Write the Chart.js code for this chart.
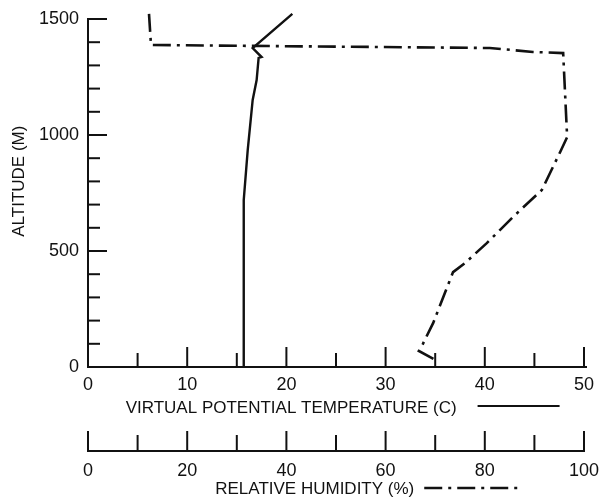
<!DOCTYPE html>
<html>
<head>
<meta charset="utf-8">
<title>Altitude profile</title>
<script src="https://cdn.jsdelivr.net/npm/chart.js@4.4.0/dist/chart.umd.min.js"></script>
<style>
    body { margin: 0; background: #fff; }
    canvas { display: block; }
</style>
</head>
<body>
<canvas id="myChart" width="602" height="501"></canvas>
<script>
// virtual potential temperature profile
var tempC   = [15.7, 15.7, 15.7, 16.1, 16.6, 17.0, 17.2, 17.5, 16.6, 20.6];
var tempAlt = [0, 547, 720, 935, 1151, 1237, 1332, 1336, 1375, 1522];

// relative humidity profile
var humidity    = [12.3, 12.7, 81.0, 89.7, 95.8, 96.6, 95.2, 91.5, 85.7, 80.4, 76.0, 73.6, 71.4, 69.6, 67.5, 66.7, 70.4];
var humidityAlt = [1522, 1388, 1375, 1358, 1353, 991, 927, 763, 647, 534, 448, 409, 289, 190, 99, 69, 26];

// labelled ticks on each axis
var altTicks  = [0, 500, 1000, 1500];
var tempTicks = [0, 10, 20, 30, 40, 50];
var rhTicks   = [0, 20, 40, 60, 80, 100];

var tempTitle = 'VIRTUAL POTENTIAL TEMPERATURE (C)';
var rhTitle   = 'RELATIVE HUMIDITY (%)';
var altTitle  = 'ALTITUDE (M)';

var FONT = '"Liberation Sans", Arial, Helvetica, sans-serif';
var INK = '#111';

Chart.defaults.font.family = FONT;
Chart.defaults.color = INK;

function points(xs, ys) {
    var out = [];
    for (var i = 0; i < xs.length; i++) {
        out.push({x: xs[i], y: ys[i]});
    }
    return out;
}

function fixedTicks(values) {
    return function (axis) {
        axis.ticks = values.map(function (v) { return {value: v}; });
    };
}

function plainNumber(value) {
    return String(value);
}

function strokeLine(ctx, x1, y1, x2, y2) {
    ctx.beginPath();
    ctx.moveTo(x1, y1);
    ctx.lineTo(x2, y2);
    ctx.stroke();
}

// space kept after each title for its line sample
var tempPad = ' '.repeat(19);
var rhPad = ' '.repeat(9);
var rhDash = [18, 6, 3, 6];

// axes with inward ticks, plus the line samples after the axis titles
var axisLines = {
    id: 'axisLines',
    afterDatasetsDraw: function (chart) {
        var ctx = chart.ctx;
        var x = chart.scales.x, x2 = chart.scales.x2, y = chart.scales.y;
        var left = x.left, bottom = y.bottom;
        ctx.save();
        ctx.strokeStyle = INK;
        ctx.lineWidth = 2;

        strokeLine(ctx, left, y.getPixelForValue(1500) - 1, left, bottom + 1);
        for (var a = 0; a <= 1500; a += 100) {
            var py = y.getPixelForValue(a);
            strokeLine(ctx, left, py, left + (a % 500 === 0 ? 19 : 12), py);
        }

        strokeLine(ctx, left - 1, bottom, x.right + 3, bottom);
        for (var t = 5; t <= 50; t += 5) {
            var px = x.getPixelForValue(t);
            strokeLine(ctx, px, bottom, px, bottom - (t % 10 === 0 ? 20 : 14));
        }

        var base = x2.top + 32;
        strokeLine(ctx, x2.left - 1, base, x2.right + 1, base);
        for (var h = 0; h <= 100; h += 10) {
            var hx = x2.getPixelForValue(h);
            strokeLine(ctx, hx, base, hx, base - (h % 20 === 0 ? 20 : 16));
        }

        ctx.font = '17px ' + FONT;
        var mid = (x.left + x.right) / 2;

        var start = mid - ctx.measureText(tempTitle + tempPad).width / 2;
        var end = start + ctx.measureText(tempTitle).width;
        var ty = x.bottom - 13;
        strokeLine(ctx, end + 21, ty, end + 103, ty);

        start = mid - ctx.measureText(rhTitle + rhPad).width / 2;
        end = start + ctx.measureText(rhTitle).width;
        ty = x2.bottom - 13;
        ctx.lineWidth = 2.5;
        ctx.setLineDash(rhDash);
        strokeLine(ctx, end + 10, ty, end + 104, ty);
        ctx.restore();
    }
};

var tickFont = {size: 18};
var titleFont = {size: 17};

var ctx = document.getElementById('myChart').getContext('2d');
var chart = new Chart(ctx, {
    type: 'line',
    data: {
        datasets: [{
            label: tempTitle,
            data: points(tempC, tempAlt),
            xAxisID: 'x',
            yAxisID: 'y',
            borderColor: INK,
            borderWidth: 2.4,
            pointRadius: 0,
            tension: 0,
            clip: false
        }, {
            label: rhTitle,
            data: points(humidity, humidityAlt),
            xAxisID: 'x2',
            yAxisID: 'y',
            borderColor: INK,
            borderWidth: 2.6,
            borderDash: rhDash,
            pointRadius: 0,
            tension: 0,
            clip: false
        }]
    },
    options: {
        responsive: false,
        animation: false,
        layout: {padding: {top: 19, right: 18, bottom: 0, left: 0}},
        plugins: {
            legend: {display: false},
            tooltip: {enabled: false}
        },
        scales: {
            // tick marks are drawn by axisLines; tickLength only spaces the labels
            y: {
                type: 'linear',
                position: 'left',
                min: 0,
                max: 1500,
                afterBuildTicks: fixedTicks(altTicks),
                afterFit: function (scale) { scale.width = 88; },
                grid: {display: false, drawTicks: true, tickLength: 9},
                border: {display: false},
                ticks: {font: tickFont, padding: 0, color: INK, callback: plainNumber},
                title: {display: true, text: '     ' + altTitle, font: titleFont, color: INK, padding: {top: 9, bottom: 0}}
            },
            x: {
                type: 'linear',
                position: 'bottom',
                weight: 0,
                min: 0,
                max: 50,
                afterBuildTicks: fixedTicks(tempTicks),
                afterFit: function (scale) { scale.height = 52; },
                grid: {display: false, drawTicks: true, tickLength: 7},
                border: {display: false},
                ticks: {font: tickFont, padding: 0, color: INK, maxRotation: 0, callback: plainNumber},
                title: {display: true, text: tempTitle + tempPad, font: titleFont, color: INK, padding: {top: 0, bottom: 0}}
            },
            x2: {
                type: 'linear',
                position: 'bottom',
                weight: 1,
                min: 0,
                max: 100,
                afterBuildTicks: fixedTicks(rhTicks),
                afterFit: function (scale) { scale.height = 82; },
                grid: {display: false, drawTicks: true, tickLength: 41},
                border: {display: false},
                ticks: {font: tickFont, padding: 0, color: INK, maxRotation: 0, callback: plainNumber},
                title: {display: true, text: rhTitle + rhPad, font: titleFont, color: INK, padding: {top: 0, bottom: 1}}
            }
        }
    },
    plugins: [axisLines]
});
</script>
</body>
</html>
